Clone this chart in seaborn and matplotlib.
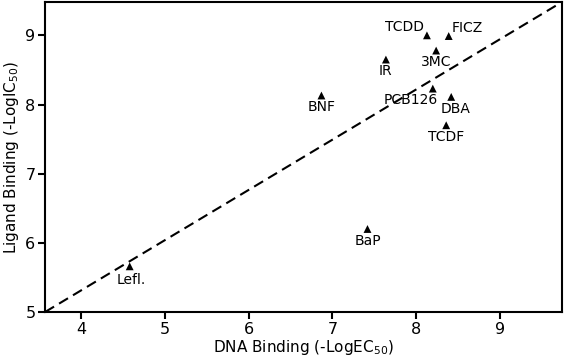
import numpy as np
import pandas as pd
import matplotlib
matplotlib.use("Agg")
import matplotlib.pyplot as plt
import seaborn as sns

# compounds and their binding values
compounds = ["TCDD", "FICZ", "3MC", "IR", "BNF", "PCB126", "DBA", "TCDF", "BaP", "Lefl."]
dna_binding = [8.13, 8.39, 8.24, 7.64, 6.87, 8.20, 8.42, 8.36, 7.42, 4.58]
ligand_binding = [9.00, 8.99, 8.78, 8.65, 8.13, 8.23, 8.11, 7.70, 6.20, 5.66]

# dashed trend line end points
trend_x = [3.57, 9.74]
trend_y = [5.00, 9.48]

df = pd.DataFrame({"dna": dna_binding, "ligand": ligand_binding, "name": compounds})

sns.set_style("white")
plt.rcParams["font.family"] = ["DejaVu Sans"]
plt.rcParams["text.color"] = "black"
plt.rcParams["axes.labelcolor"] = "black"

fig, ax = plt.subplots(figsize=(5.64, 3.59), dpi=100)
fig.subplots_adjust(left=0.080, right=0.996, bottom=0.131, top=0.994)

ax.plot(trend_x, trend_y, color="black", lw=1.5, dashes=(5, 2.8))
sns.scatterplot(data=df, x="dna", y="ligand", ax=ax, marker="^", color="black",
                s=32, edgecolor="none", zorder=3)

# label placement (offsets in points, alignment)
label_pos = {
    "TCDD": (-2, 6, "right", "center"),
    "FICZ": (2, 6, "left", "center"),
    "PCB126": (-16, -8, "center", "center"),
    "DBA": (3, -8.5, "center", "center"),
    "Lefl.": (1, -9.5, "center", "center"),
}
for _, r in df.iterrows():
    dx, dy, ha, va = label_pos.get(r["name"], (0, -8.3, "center", "center"))
    ax.annotate(r["name"], (r["dna"], r["ligand"]), xytext=(dx, dy),
                textcoords="offset points", ha=ha, va=va, fontsize=10, color="black")

ax.set_xlim(3.57, 9.74)
ax.set_ylim(5.0, 9.48)
ax.set_xticks([4, 5, 6, 7, 8, 9])
ax.set_yticks([5, 6, 7, 8, 9])
ax.set_xlabel("DNA Binding (-LogEC$_{50}$)", fontsize=11, labelpad=1)
ax.set_ylabel("Ligand Binding (-LogIC$_{50}$)", fontsize=11, labelpad=3)
ax.tick_params(axis="both", labelsize=11.5, length=5, width=1.5, direction="out",
               bottom=True, left=True, pad=2, colors="black")
for sp in ax.spines.values():
    sp.set_linewidth(1.5)
    sp.set_color("black")

fig.savefig("out.png", dpi=100)
